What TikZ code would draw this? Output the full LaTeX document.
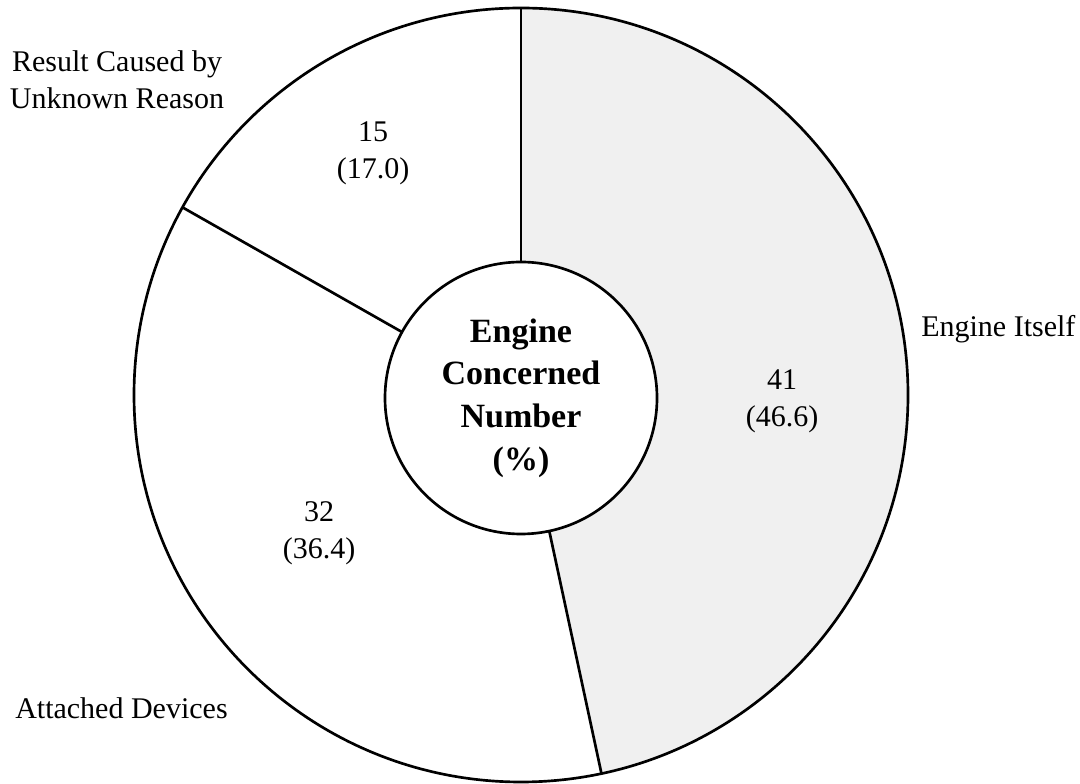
\documentclass[tikz,border=0pt]{standalone}
\usepackage{fontspec}
\setmainfont{Liberation Serif}
\usetikzlibrary{calc}
\begin{document}
\begin{tikzpicture}[x=0.75pt,y=0.75pt,
  rim/.style={draw=black,line width=2pt,circle,inner sep=0pt,outer sep=0pt},
  divider/.style={draw=black,line width=2pt},
  lbl/.style={font=\fontsize{22.5}{28}\selectfont,align=center,inner sep=0pt},
  hubtext/.style={font=\fontsize{25.5}{32}\selectfont\bfseries,align=center}]
\useasboundingbox (0,0) rectangle (1080,784);
% centres of the outer ring and of the hub
\coordinate (O) at (521,389);
\coordinate (I) at (521,386);
% stippled "Engine Itself" sector
\fill[black!6] ($(O)+(90:387)$) arc[start angle=90,end angle=-78,radius=387]
  -- ($(I)+(-78:136)$) arc[start angle=-78,end angle=90,radius=136] -- cycle;
% outer ring and hub
\node[rim,minimum size=580.5pt] (ring) at (O) {};
\node[rim,minimum size=204pt,hubtext] (hub) at (I) {Engine\\Concerned\\Number\\(\%)};
% sector dividers
\draw[divider] (hub.90) -- (ring.90);
\draw[divider] (hub.151) -- (ring.151);
\draw[divider] (hub.-78) -- (ring.-78);
% values
\node[lbl] (v15) at (373,631) {15\\(17.0)};
\node[lbl] (v41) at (782,383) {41\\(46.6)};
\node[lbl] (v32) at (319,251) {32\\(36.4)};
% category names
\node[lbl] (unknown) at (117,704) {Result Caused by\\Unknown Reason};
\node[lbl,anchor=west] (itself) at (921,455) {Engine Itself};
\node[lbl,anchor=west] (attached) at (15,76) {Attached Devices};
\end{tikzpicture}
\end{document}
